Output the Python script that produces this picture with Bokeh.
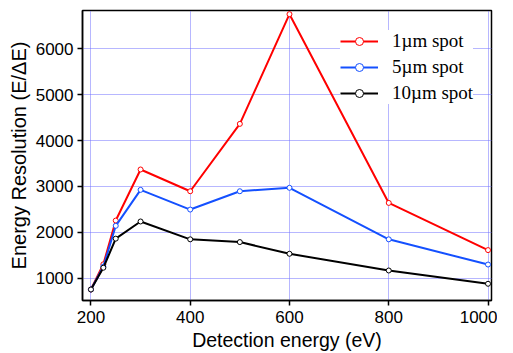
import numpy as np
from bokeh.plotting import figure
from bokeh.models import Range1d, FixedTicker, Legend, LegendItem
from bokeh.embed import file_html
from bokeh.resources import INLINE

# ---- data ----
energy = [200, 225, 250, 300, 400, 500, 600, 800, 1000]
res_1um = [750, 1300, 2255, 3370, 2895, 4365, 6760, 2640, 1610]
res_5um = [750, 1250, 2140, 2925, 2495, 2895, 2970, 1845, 1295]
res_10um = [750, 1225, 1860, 2235, 1845, 1785, 1530, 1165, 875]
series_names = ["1\u00b5m spot", "5\u00b5m spot", "10\u00b5m spot"]
series_colors = ["#ff0000", "#1450ff", "#000000"]
x_ticks = [200, 400, 600, 800, 1000]
y_ticks = [1000, 2000, 3000, 4000, 5000, 6000]

p = figure(width=497, height=353, output_backend="svg", toolbar_location=None,
           x_range=Range1d(183, 1007), y_range=Range1d(510, 6840),
           min_border_left=82, min_border_right=6, min_border_top=10, min_border_bottom=53)

sans = "Liberation Sans"
for ax in (p.xaxis[0], p.yaxis[0]):
    ax.major_label_text_font = sans
    ax.major_label_text_font_size = "17px"
    ax.major_label_text_color = "#000000"
    ax.axis_label_text_font = sans
    ax.axis_label_text_font_style = "normal"
    ax.axis_label_text_color = "#000000"
    ax.major_tick_out = 5
    ax.major_tick_in = 0
    ax.minor_tick_out = 0
    ax.minor_tick_in = 0
    ax.axis_line_color = "#000000"
    ax.axis_line_width = 1.5
    ax.major_tick_line_color = "#000000"
    ax.major_tick_line_width = 1.5

p.xaxis.ticker = FixedTicker(ticks=x_ticks)
p.yaxis.ticker = FixedTicker(ticks=y_ticks)
p.xaxis.axis_label = "Detection energy (eV)"
p.yaxis.axis_label = "Energy Resolution (E/\u0394E)"
p.xaxis.axis_label_text_font_size = "19.5px"
p.yaxis.axis_label_text_font_size = "20px"
p.xaxis.major_label_standoff = 5
p.yaxis.major_label_standoff = 4
p.xaxis.axis_label_standoff = 3
p.yaxis.axis_label_standoff = 3

for g in (p.xgrid[0], p.ygrid[0]):
    g.grid_line_color = "#6f6fff"
    g.grid_line_dash = "1 1"
    g.grid_line_width = 1
p.xgrid.ticker = FixedTicker(ticks=x_ticks)
p.ygrid.ticker = FixedTicker(ticks=y_ticks)

p.outline_line_color = "#000000"
p.outline_line_width = 1.5
p.background_fill_color = "#ffffff"
p.border_fill_color = "#ffffff"

items = []
for vals, name, col in zip([res_1um, res_5um, res_10um], series_names, series_colors):
    ln = p.line(energy, vals, line_color=col, line_width=2)
    p.scatter(energy, vals, marker="circle", size=5, fill_color="#ffffff",
              line_color=col, line_width=1)
    big = p.scatter([np.nan], [np.nan], marker="circle", size=12, fill_color="#ffffff",
                    line_color=col, line_width=1)
    items.append(LegendItem(label=name, renderers=[ln, big]))

legend = Legend(items=items, location=(258, 196))
legend.label_text_font = "Liberation Serif"
legend.label_text_font_size = "19px"
legend.label_text_color = "#000000"
legend.glyph_width = 38
legend.glyph_height = 20
legend.label_height = 20
legend.label_standoff = 14
legend.spacing = 4
legend.padding = 4
legend.border_line_color = None
legend.background_fill_color = "#ffffff"
legend.background_fill_alpha = 1.0
p.add_layout(legend)

open("out.html", "w").write(file_html(p, INLINE))
